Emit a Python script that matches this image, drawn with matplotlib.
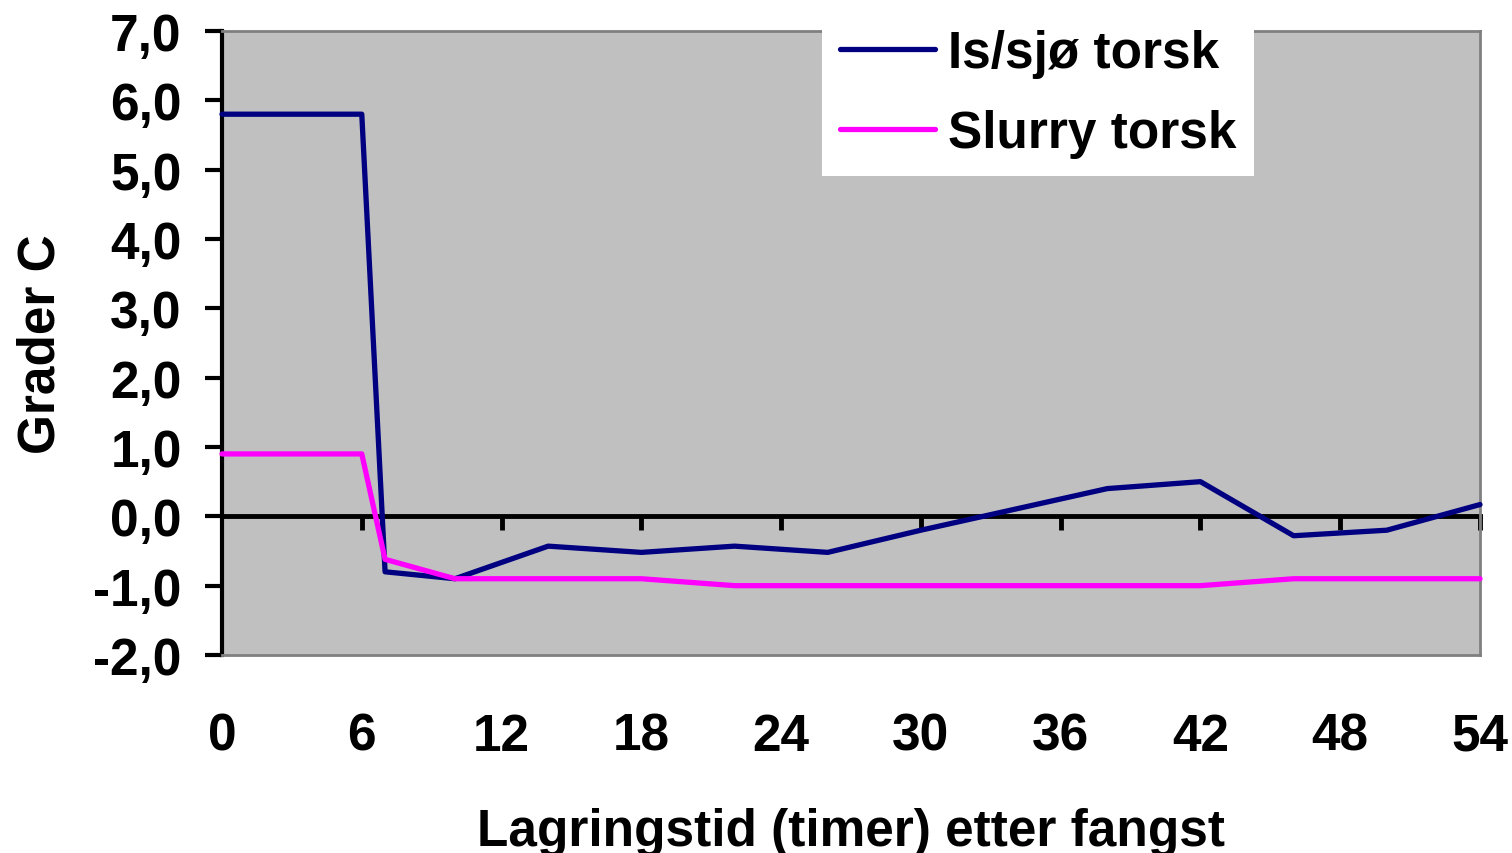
import numpy as np
import matplotlib
matplotlib.use("Agg")
import matplotlib.pyplot as plt

# lagringstid (timer) og temperatur (grader C)
timer = [0, 6, 7, 10, 14, 18, 22, 26, 30, 34, 38, 42, 46, 50, 54]
is_sjo = [5.8, 5.8, -0.8, -0.9, -0.43, -0.52, -0.43, -0.52, -0.2, 0.1, 0.4, 0.5, -0.28, -0.2, 0.17]
slurry = [0.9, 0.9, -0.62, -0.9, -0.9, -0.9, -1.0, -1.0, -1.0, -1.0, -1.0, -1.0, -0.9, -0.9, -0.9]

x_ticks = [0, 6, 12, 18, 24, 30, 36, 42, 48, 54]
y_ticks = [-2, -1, 0, 1, 2, 3, 4, 5, 6, 7]

plt.rcParams['font.family'] = ['Liberation Sans', 'DejaVu Sans']
plt.rcParams['font.weight'] = 'bold'
fs = 37

fig = plt.figure(figsize=(15.12, 8.54), dpi=100)
ax = fig.add_axes([222/1512, 1-656/854, (1480-222)/1512, (656-32)/854])
ax.set_facecolor('#C0C0C0')

ax.plot(timer, is_sjo, color='#000080', lw=3.8, label='Is/sjø torsk', zorder=3,
        clip_on=False, solid_capstyle='round')
ax.plot(timer, slurry, color='#FF00FF', lw=3.8, label='Slurry torsk', zorder=3,
        clip_on=False, solid_capstyle='round')

ax.set_xlim(0, 54)
ax.set_ylim(-2, 7)

# y-akse
ax.set_yticks(y_ticks)
ax.set_yticklabels([f"{v:.1f}".replace('.', ',') for v in y_ticks], fontsize=fs, fontweight='bold')
ax.tick_params(axis='y', length=12, width=3, direction='out', pad=17)
ax.spines['left'].set_linewidth(3)
ax.spines['left'].set_color('black')
for s in ['top', 'right', 'bottom']:
    ax.spines[s].set_color('#808080')
    ax.spines[s].set_linewidth(2)

# x-akse: etiketter nederst, tikk på nullinjen
ax.set_xticks(x_ticks)
ax.set_xticklabels([str(v) for v in x_ticks], fontsize=fs, fontweight='bold')
ax.tick_params(axis='x', length=0, pad=41)

sec = ax.secondary_xaxis(2/9)
sec.set_xticks(x_ticks[1:])
sec.set_xticklabels([])
sec.tick_params(axis='x', length=10, width=3.5, direction='out', color='black')
sec.spines['bottom'].set_linewidth(3.5)
sec.spines['bottom'].set_color('black')

ax.set_ylabel('Grader C', fontsize=fs, fontweight='bold', labelpad=20)
ax.set_xlabel('Lagringstid (timer) etter fangst', fontsize=fs, fontweight='bold', labelpad=33)

leg = ax.legend(loc='upper left', bbox_to_anchor=(822/1512, 1-12/854),
                bbox_transform=fig.transFigure, prop={'size': fs, 'weight': 'bold'},
                frameon=True, fancybox=False, edgecolor='white', facecolor='white',
                framealpha=1, handlelength=1.85, handletextpad=0.25, labelspacing=0.6,
                borderpad=0.35, borderaxespad=0)
leg.get_frame().set_linewidth(0)

fig.savefig('out.png', dpi=100)
